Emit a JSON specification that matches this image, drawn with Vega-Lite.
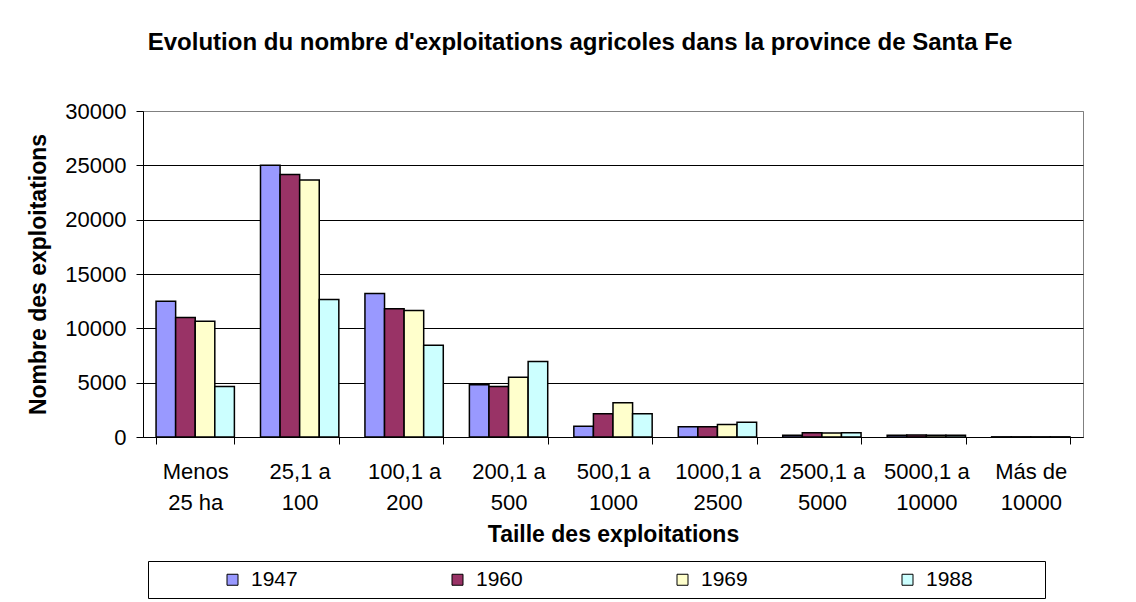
{
  "$schema": "https://vega.github.io/schema/vega-lite/v6.json",
  "autosize": {"type": "none"},
  "padding": {"left": 143, "top": 111, "right": 53, "bottom": 165},
  "width": 940,
  "height": 326,
  "background": "white",
  "title": {
    "text": "Evolution du nombre d'exploitations agricoles dans la province de Santa Fe",
    "font": "Liberation Sans",
    "fontSize": 24,
    "fontWeight": "bold",
    "color": "black",
    "anchor": "middle",
    "frame": "group",
    "baseline": "alphabetic",
    "offset": 26,
    "dx": -33
  },
  "data": {
    "values": [
      {"taille": "Menos|25 ha", "annee": "1947", "n": 12500},
      {"taille": "Menos|25 ha", "annee": "1960", "n": 11000},
      {"taille": "Menos|25 ha", "annee": "1969", "n": 10650},
      {"taille": "Menos|25 ha", "annee": "1988", "n": 4650},
      {"taille": "25,1 a|100", "annee": "1947", "n": 25000},
      {"taille": "25,1 a|100", "annee": "1960", "n": 24150},
      {"taille": "25,1 a|100", "annee": "1969", "n": 23650},
      {"taille": "25,1 a|100", "annee": "1988", "n": 12650},
      {"taille": "100,1 a|200", "annee": "1947", "n": 13200},
      {"taille": "100,1 a|200", "annee": "1960", "n": 11800},
      {"taille": "100,1 a|200", "annee": "1969", "n": 11650},
      {"taille": "100,1 a|200", "annee": "1988", "n": 8450},
      {"taille": "200,1 a|500", "annee": "1947", "n": 4800},
      {"taille": "200,1 a|500", "annee": "1960", "n": 4650},
      {"taille": "200,1 a|500", "annee": "1969", "n": 5500},
      {"taille": "200,1 a|500", "annee": "1988", "n": 6950},
      {"taille": "500,1 a|1000", "annee": "1947", "n": 1000},
      {"taille": "500,1 a|1000", "annee": "1960", "n": 2150},
      {"taille": "500,1 a|1000", "annee": "1969", "n": 3150},
      {"taille": "500,1 a|1000", "annee": "1988", "n": 2150},
      {"taille": "1000,1 a|2500", "annee": "1947", "n": 950},
      {"taille": "1000,1 a|2500", "annee": "1960", "n": 950},
      {"taille": "1000,1 a|2500", "annee": "1969", "n": 1150},
      {"taille": "1000,1 a|2500", "annee": "1988", "n": 1350},
      {"taille": "2500,1 a|5000", "annee": "1947", "n": 150},
      {"taille": "2500,1 a|5000", "annee": "1960", "n": 380},
      {"taille": "2500,1 a|5000", "annee": "1969", "n": 360},
      {"taille": "2500,1 a|5000", "annee": "1988", "n": 380},
      {"taille": "5000,1 a|10000", "annee": "1947", "n": 150},
      {"taille": "5000,1 a|10000", "annee": "1960", "n": 180},
      {"taille": "5000,1 a|10000", "annee": "1969", "n": 170},
      {"taille": "5000,1 a|10000", "annee": "1988", "n": 160},
      {"taille": "Más de|10000", "annee": "1947", "n": 15},
      {"taille": "Más de|10000", "annee": "1960", "n": 15},
      {"taille": "Más de|10000", "annee": "1969", "n": 15},
      {"taille": "Más de|10000", "annee": "1988", "n": 15}
    ]
  },
  "mark": {"type": "bar", "stroke": "black", "strokeWidth": 1.5},
  "encoding": {
    "x": {
      "field": "taille",
      "type": "nominal",
      "sort": null,
      "scale": {"paddingInner": 0.25, "paddingOuter": 0.125},
      "title": "Taille des exploitations",
      "axis": {
        "labelExpr": "split(datum.label, '|')",
        "labelAngle": 0,
        "labelFont": "Liberation Sans",
        "labelFontSize": 22,
        "labelLineHeight": 31,
        "labelColor": "black",
        "labelPadding": 17,
        "labelLimit": 200,
        "tickBand": "extent",
        "tickSize": 7,
        "tickColor": "black",
        "domainColor": "black",
        "titleFont": "Liberation Sans",
        "titleFontSize": 23,
        "titleFontWeight": "bold",
        "titleColor": "black",
        "titlePadding": 10
      }
    },
    "xOffset": {"field": "annee", "type": "nominal", "scale": {"paddingInner": 0, "paddingOuter": 0}},
    "y": {
      "field": "n",
      "type": "quantitative",
      "scale": {"domain": [0, 30000], "nice": false},
      "title": "Nombre des exploitations",
      "axis": {
        "values": [0, 5000, 10000, 15000, 20000, 25000, 30000],
        "format": "d",
        "grid": true,
        "gridColor": {"condition": {"test": "datum.value == 30000", "value": "#808080"}, "value": "black"},
        "gridWidth": 1,
        "labelFont": "Liberation Sans",
        "labelFontSize": 22,
        "labelColor": "black",
        "labelPadding": 10,
        "tickSize": 7,
        "tickColor": "black",
        "domainColor": "black",
        "titleFont": "Liberation Sans",
        "titleFontSize": 23,
        "titleFontWeight": "bold",
        "titleColor": "black",
        "titlePadding": 14
      }
    },
    "fill": {
      "field": "annee",
      "type": "nominal",
      "title": "\u00a0",
      "scale": {"domain": ["1947", "1960", "1969", "1988"], "range": ["#9999FF", "#993366", "#FFFFCC", "#CCFFFF"]},
      "legend": {
        "orient": "none",
        "legendX": 5,
        "legendY": 450,
        "direction": "horizontal",
        "titleOrient": "left",
        "titleFontSize": 21,
        "titlePadding": 66,
        "strokeColor": "black",
        "padding": 8,
        "symbolType": "square",
        "symbolSize": 121,
        "symbolStrokeColor": "black",
        "symbolStrokeWidth": 1,
        "symbolOpacity": 1,
        "labelFont": "Liberation Sans",
        "labelFontSize": 21,
        "labelColor": "black",
        "labelOffset": 8,
        "labelLimit": 400,
        "columnPadding": 149,
        "labelExpr": "datum.value == '1988' ? datum.label + '\u00a0\u00a0\u00a0\u00a0\u00a0\u00a0\u00a0\u00a0\u00a0\u00a0\u00a0\u200b' : datum.label"
      }
    }
  },
  "config": {
    "view": {"stroke": "#808080", "strokeWidth": 1}
  }
}
